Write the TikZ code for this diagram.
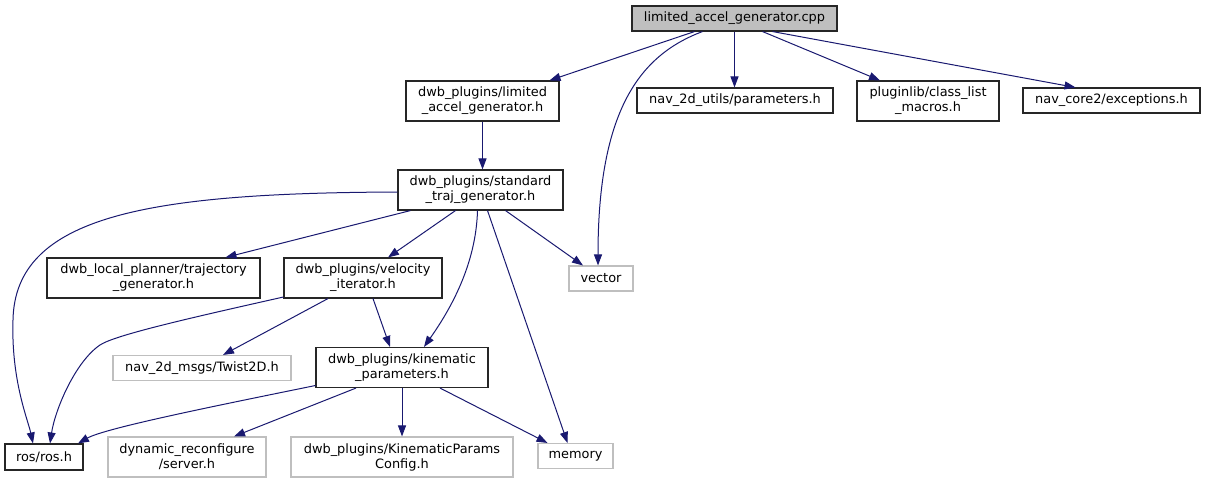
\documentclass[tikz,border=0pt]{standalone}
\usepackage{fontspec}
\setmainfont{DejaVu Sans}
\usetikzlibrary{arrows.meta}
\definecolor{edgec}{HTML}{191970}
\definecolor{gborder}{HTML}{BFBFBF}
\definecolor{rootfill}{HTML}{BFBFBF}
\begin{document}
\begin{tikzpicture}[x=1pt,y=-1pt,
  box/.style={draw=black!85, line width=1.1pt, fill=white, inner sep=0pt, align=center,
    font=\fontsize{12.9}{15}\selectfont},
  gbox/.style={box, draw=gborder},
  rootbox/.style={box, fill=rootfill, draw=black!85},
  e/.style={draw=edgec, line width=1pt, -{Triangle[length=11pt,width=8pt]}}
]
\path[use as bounding box] (0,0) rectangle (1206,484);

\node[rootbox, minimum width=205pt, minimum height=25pt] (root) at (734.5,18.5) {limited\_accel\_generator.cpp};
\node[box, minimum width=153pt, minimum height=40pt] (lim) at (482.5,101) {dwb\_plugins/limited\\\_accel\_generator.h};
\node[box, minimum width=196pt, minimum height=25pt] (nav2d) at (735,100.5) {nav\_2d\_utils/parameters.h};
\node[box, minimum width=142pt, minimum height=40pt] (plug) at (928,101) {pluginlib/class\_list\\\_macros.h};
\node[box, minimum width=177pt, minimum height=25pt] (core) at (1111.5,100.5) {nav\_core2/exceptions.h};
\node[box, minimum width=165pt, minimum height=40pt] (std) at (480.5,190) {dwb\_plugins/standard\\\_traj\_generator.h};
\node[gbox, minimum width=64pt, minimum height=25pt] (vec) at (601,278.5) {vector};
\node[box, minimum width=213pt, minimum height=40pt] (traj) at (153.5,278) {dwb\_local\_planner/trajectory\\\_generator.h};
\node[box, minimum width=158pt, minimum height=40pt] (vel) at (363,278) {dwb\_plugins/velocity\\\_iterator.h};
\node[gbox, minimum width=178pt, minimum height=25pt] (tw) at (202,368) {nav\_2d\_msgs/Twist2D.h};
\node[box, minimum width=172pt, minimum height=40pt] (kin) at (402,367.5) {dwb\_plugins/kinematic\\\_parameters.h};
\node[box, minimum width=78pt, minimum height=26pt] (ros) at (44,457) {ros/ros.h};
\node[gbox, minimum width=158pt, minimum height=40pt] (dyn) at (187,457) {dynamic\_reconfigure\\/server.h};
\node[gbox, minimum width=222pt, minimum height=40pt] (kpc) at (402,457) {dwb\_plugins/KinematicParams\\Config.h};
\node[gbox, minimum width=75pt, minimum height=25pt] (mem) at (575.5,456) {memory};

% from root
\draw[e] ([xshift=-40pt]root.south) -- ([xshift=67pt]lim.north);
\draw[e] ([xshift=-32pt]root.south) .. controls (640,55) and (598,110) .. ([xshift=-3pt]vec.north);
\draw[e] (root.south) -- (root.south |- nav2d.north);
\draw[e] ([xshift=28pt]root.south) -- ([xshift=-48pt]plug.north);
\draw[e] ([xshift=38pt]root.south) -- ([xshift=-36pt]core.north);
% lim
\draw[e] (lim.south) -- (lim.south |- std.north);
% std
\draw[e] ([yshift=-2pt]std.west) .. controls (150,193) and (15,215) .. (13,320) .. controls (11,380) and (28,420) .. ([xshift=-11pt]ros.north);
\draw[e] ([xshift=-70pt]std.south) -- ([xshift=72pt]traj.north);
\draw[e] ([xshift=-25pt]std.south) -- ([xshift=25pt]vel.north);
\draw[e] ([xshift=-3pt]std.south) .. controls (476,265) and (450,310) .. ([xshift=22pt]kin.north);
\draw[e] ([xshift=7pt]std.south) -- ([xshift=-8pt]mem.north);
\draw[e] ([xshift=25pt]std.south) -- ([xshift=-18pt]vec.north);
% vel
\draw[e] ([yshift=-19pt]vel.west) .. controls (190,318) and (115,335) .. (100,345) .. controls (75,362) and (55,410) .. ([xshift=6pt]ros.north);
\draw[e] ([xshift=-35pt]vel.south) -- ([xshift=21pt]tw.north);
\draw[e] ([xshift=10pt]vel.south) -- ([xshift=-12pt]kin.north);
% kin
\draw[e] ([yshift=-18pt]kin.west) .. controls (220,405) and (105,428) .. ([xshift=34pt]ros.north);
\draw[e] ([xshift=-46pt]kin.south) -- ([xshift=47pt]dyn.north);
\draw[e] (kin.south) -- (kin.south |- kpc.north);
\draw[e] ([xshift=38pt]kin.south) -- ([xshift=-28pt]mem.north);
\end{tikzpicture}
\end{document}
